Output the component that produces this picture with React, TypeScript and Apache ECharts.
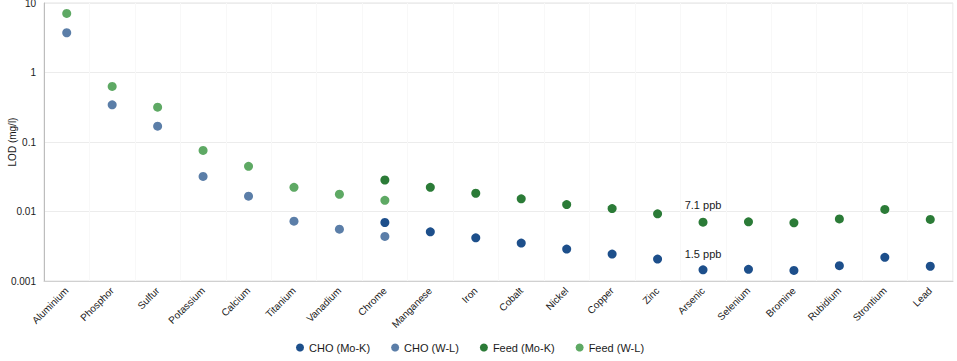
import React, { useEffect, useRef } from "react";
import * as echarts from "echarts";

const categories = [
  "Aluminium", "Phosphor", "Sulfur", "Potassium", "Calcium", "Titanium", "Vanadium",
  "Chrome", "Manganese", "Iron", "Cobalt", "Nickel", "Copper", "Zinc", "Arsenic",
  "Selenium", "Bromine", "Rubidium", "Strontium", "Lead",
];

const choMoK = [null, null, null, null, null, null, null,
  0.00695, 0.0051, 0.00418, 0.00351, 0.00288, 0.00244, 0.00207, 0.00145,
  0.00147, 0.00142, 0.00166, 0.00219, 0.00163];
const choWL = [3.73, 0.343, 0.169, 0.032, 0.0166, 0.00726, 0.00557, 0.00438,
  null, null, null, null, null, null, null, null, null, null, null, null];
const feedMoK = [null, null, null, null, null, null, null,
  0.0284, 0.0223, 0.0183, 0.0152, 0.0126, 0.011, 0.00925, 0.00702,
  0.0071, 0.00687, 0.00783, 0.0107, 0.0077];
const feedWL = [7.07, 0.63, 0.317, 0.0757, 0.0447, 0.0223, 0.0177, 0.0145,
  null, null, null, null, null, null, null, null, null, null, null, null];

const annotationIndex = 14;
const feedNote = "7.1 ppb";
const choNote = "1.5 ppb";

const colors = ["#1d4f8b", "#5b7ea8", "#2b7b37", "#5ea964"];
const font = "Liberation Sans, Arial, sans-serif";

function withNote(values: (number | null)[], note: string, pos: number[]) {
  return values.map((v, i) =>
    i === annotationIndex
      ? {
          value: v,
          label: {
            show: true,
            formatter: note,
            position: pos,
            align: "center",
            verticalAlign: "middle",
            color: "#1a1a1a",
            fontSize: 11,
            fontFamily: font,
          },
        }
      : v
  );
}

export default function App() {
  const ref = useRef<HTMLDivElement>(null);
  useEffect(() => {
    const chart = echarts.init(ref.current!, null, { renderer: "svg" });
    const names = ["CHO (Mo-K)", "CHO (W-L)", "Feed (Mo-K)", "Feed (W-L)"];
    const data = [
      withNote(choMoK, choNote, [4.5, -11.5]),
      choWL,
      withNote(feedMoK, feedNote, [4.5, -12.5]),
      feedWL,
    ];
    chart.setOption({
      animation: false,
      color: colors,
      textStyle: { fontFamily: font },
      grid: {
        left: 44, right: 4, top: 3, bottom: 80,
        containLabel: false, outerBoundsMode: "none",
        show: true, borderColor: "#e2e2e2", borderWidth: 1,
      },
      legend: {
        left: 291,
        bottom: 3,
        icon: "circle",
        itemWidth: 8,
        itemHeight: 8,
        itemGap: 21,
        textStyle: { fontSize: 11, color: "#1a1a1a", fontFamily: font },
        data: names,
      },
      xAxis: {
        type: "category",
        data: categories,
        boundaryGap: true,
        axisLine: { lineStyle: { color: "#d0d0d0" } },
        axisTick: { show: false },
        axisLabel: { rotate: 45, fontSize: 10, color: "#1a1a1a", interval: 0, margin: 8, fontFamily: font },
        splitLine: { show: true, lineStyle: { color: "#f8f8f8" } },
      },
      yAxis: {
        type: "log",
        logBase: 10,
        min: 0.001,
        max: 10,
        name: "LOD (mg/l)",
        nameLocation: "middle",
        nameGap: 27,
        nameMoveOverlap: false,
        nameTextStyle: { fontSize: 10, color: "#1a1a1a", fontFamily: font },
        axisLine: { show: true, lineStyle: { color: "#bdbdbd" } },
        axisTick: { show: false },
        axisLabel: {
          fontSize: 10,
          color: "#1a1a1a",
          fontFamily: font,
          formatter: (v: number) => String(Number(v.toPrecision(3))),
        },
        splitLine: { lineStyle: { color: "#ececec" } },
      },
      series: names.map((n, i) => ({
        name: n,
        type: "scatter",
        symbol: "circle",
        symbolSize: 9,
        data: data[i],
        itemStyle: { color: colors[i], opacity: 1 },
      })),
    });
    return () => chart.dispose();
  }, []);
  return (
    <div
      ref={ref}
      style={{ position: "fixed", left: 0, top: 0, width: 957, height: 361, background: "#fff" }}
    />
  );
}
